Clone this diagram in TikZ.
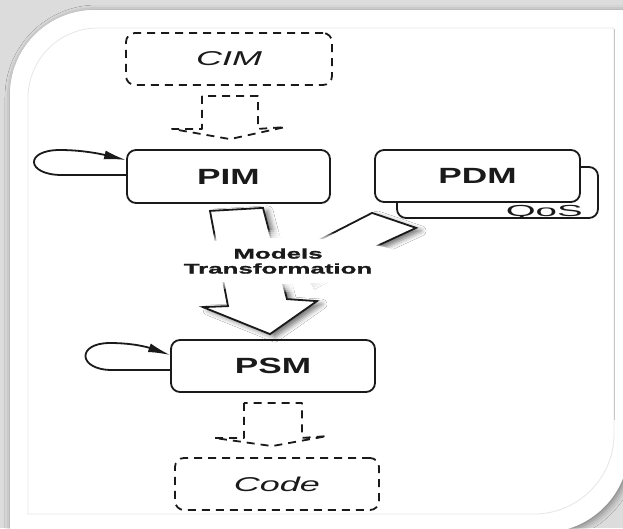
\documentclass[tikz,border=0pt]{standalone}
\usepackage{fontspec}
\setmainfont{Liberation Sans}
\newfontfamily\boxfont[FakeStretch=1.6]{Liberation Sans}
\newfontfamily\widefont[FakeStretch=2.4]{Liberation Sans}
\newfontfamily\slantfont[FakeStretch=1.8]{Liberation Sans}
\newfontfamily\tagfont[FakeStretch=1.85,FakeBold=1.6]{Liberation Sans}
\usetikzlibrary{arrows.meta,calc,shapes.geometric,shadows.blur}

\definecolor{pagegray}{HTML}{DCDCDC}
\definecolor{framegray}{HTML}{E6E6E6}
\definecolor{ink}{HTML}{1A1A1A}

\tikzset{
  model/.style={draw=ink, line width=1.8pt, rounded corners=9pt, fill=white,
    minimum width=204pt, minimum height=52pt, inner sep=0pt,
    font=\boxfont\bfseries\fontsize{22}{24}\selectfont, text=ink},
  sketchmodel/.style={model, dash pattern=on 8pt off 6pt,
    font=\slantfont\itshape\fontsize{20}{22}\selectfont},
  hollowflow/.style={draw=ink, line width=1.8pt, dash pattern=on 8pt off 6pt,
    line join=round},
  blockflow/.style={draw=ink, line width=1.8pt, fill=white, line join=miter,
    blur shadow={shadow xshift=5pt, shadow yshift=-3pt, shadow blur radius=5pt,
      shadow opacity=55}},
  selfloop/.style={draw=ink, line width=1.8pt,
    -{Latex[length=22pt,width=9pt]}},
  halo/.style={fill=white, fill opacity=0.3, draw=none},
}

\begin{document}
\begin{tikzpicture}[x=1pt,y=-1pt]
  \useasboundingbox (0,0) rectangle (623,528);
  \clip (0,0) rectangle (623,528);

  % page and card
  \fill[pagegray] (0,0) rectangle (623,528);
  \path[fill=white,
        blur shadow={shadow xshift=2pt, shadow yshift=-2pt,
          shadow blur radius=7pt, shadow opacity=45}]
    (10,540) -- (10,200) [rounded corners=85pt] -- (10,10) -- (300,10)
    [sharp corners] -- (640,10) -- (640,200) [rounded corners=80pt]
    -- (625,532) -- (300,532) [sharp corners] -- cycle;
  \path[fill=white]
    (10,540) -- (10,200) [rounded corners=85pt] -- (10,10) -- (300,10)
    [sharp corners] -- (640,10) -- (625,200) [rounded corners=80pt]
    -- (625,532) -- (300,532) [sharp corners] -- cycle;
  \path[fill=white, draw=framegray, line width=0.8pt]
    (28,514) -- (28,200) [rounded corners=70pt] -- (28,28) -- (300,28)
    [sharp corners] -- (614,28) -- (614,200) [rounded corners=80pt]
    -- (614,514) -- (300,514) [sharp corners] -- cycle;
  \draw[gray!45, line width=0.8pt] (614,29) -- (614,420);

  % model boxes
  \node[sketchmodel, minimum width=206pt] (cim) at (229,59) {CIM};
  \node[model, minimum width=203pt, minimum height=53pt] (pim) at (228.5,176.5) {PIM};
  \node[model, minimum width=201pt, minimum height=51pt] (qos) at (497.5,192.5) {};
  \node[anchor=base east, inner sep=0pt, text=ink,
        font=\widefont\fontsize{16}{18}\selectfont] (qoslabel)
        at ($(qos.south east)+(-16,-2)$) {QoS};
  \node[model, minimum width=205pt] (pdm) at (477.5,176) {PDM};
  \node[model] (psm) at (273,366) {PSM};
  \node[sketchmodel] (code) at (277,484) {Code};

  % dashed refinement arrows
  \draw[hollowflow]
    ($(cim.south)+(-27,10)$) -- ($(cim.south)+(-27,43)$) -- ($(cim.south)+(-57,43)$)
    -- ($(pim.north)+(1.5,-10)$) -- ($(pim.north)+(56.5,-22)$)
    -- ($(cim.south)+(29,43)$) -- ($(cim.south)+(29,10)$) -- cycle;
  \draw[hollowflow]
    ($(psm.south)+(-29,10)$) -- ($(psm.south)+(-29,45)$) -- ($(psm.south)+(-59,45)$)
    -- ($(code.north)+(-5,-11)$) -- ($(code.north)+(50,-21)$)
    -- ($(psm.south)+(29,45)$) -- ($(psm.south)+(29,10)$) -- cycle;

  % self loops
  \draw[selfloop] ($(pim.west)+(0,-1.5)$) -- (62,175)
    .. controls (26,175) and (24,150) .. (60,150)
    .. controls (85,150) and (105,155) .. ($(pim.west)+(0,-16.5)$);
  \draw[selfloop] ($(psm.west)+(0,4)$) -- (112,370)
    .. controls (78,370) and (76,343) .. (110,343)
    .. controls (135,343) and (150,348) .. ($(psm.west)+(0,-11)$);

  % transformation arrows
  \path[blockflow]
    ($(pim.south)+(-18.5,7)$) -- ($(psm.north)+(-45,-33)$) -- ($(psm.north)+(-70,-32)$)
    -- ($(psm.north)+(-3,-5)$) -- ($(psm.north)+(44,-38)$) -- ($(psm.north)+(14,-40)$)
    -- ($(pim.south)+(34.5,4)$) -- cycle;
  \path[blockflow]
    (284,258) -- ($(qos.south west)+(-24,-6)$) -- ($(qos.south west)+(20,9)$)
    -- ($(qos.south west)+(-19,27)$) -- (307,282);

  % soft white label patch over the merging arrows
  \foreach \grow in {16,12,8,4}
    \path[halo] (278,261) ellipse [x radius={104+\grow}, y radius={23+\grow/2}];
  \node[ellipse, fill=white, minimum width=208pt, minimum height=46pt,
        inner sep=0pt, align=center, text=ink,
        font=\tagfont\bfseries\fontsize{14}{15}\selectfont] (mt) at (278,261)
        {Models\\Transformation};
\end{tikzpicture}
\end{document}
